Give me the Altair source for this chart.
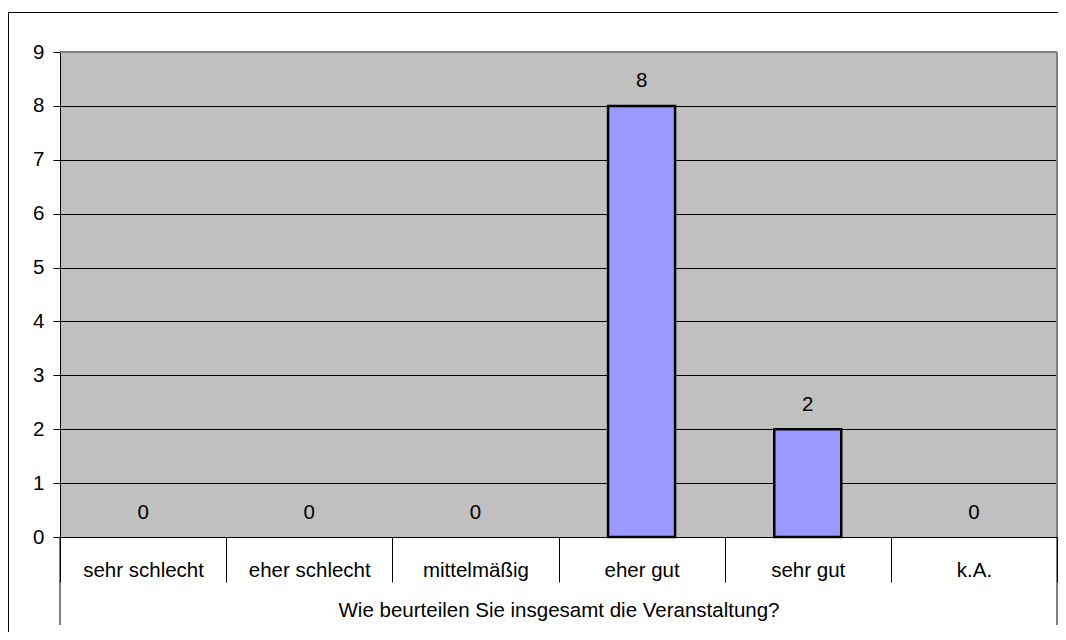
import altair as alt
import pandas as pd

categories = ["sehr schlecht", "eher schlecht", "mittelmäßig", "eher gut", "sehr gut", "k.A."]
counts = [0, 0, 0, 8, 2, 0]
y_ticks = [0, 1, 2, 3, 4, 5, 6, 7, 8, 9]
x_title = "Wie beurteilen Sie insgesamt die Veranstaltung?"

df = pd.DataFrame({"cat": categories, "n": counts})
one = pd.DataFrame({"a": [0]})

W, H = 997, 485
FONT = "Liberation Sans"
FS = 20.5

x = alt.X(
    "cat:N",
    scale=alt.Scale(domain=categories, paddingInner=0, paddingOuter=0),
    axis=alt.Axis(
        title=x_title, labelAngle=0, labelFontSize=FS, labelFont=FONT, labelColor="black",
        labelBaseline="alphabetic", labelPadding=-6, tickSize=45, tickBand="extent",
        tickColor="black", domainColor="black", titleFont=FONT, titleFontSize=FS,
        titleFontWeight="normal", titleColor="black", titleBaseline="alphabetic",
        titleY=79, labelOverlap=False,
    ),
)
y = alt.Y(
    "n:Q",
    scale=alt.Scale(domain=[0, 9], nice=False),
    axis=alt.Axis(
        title=None, values=y_ticks, tickSize=7, tickColor="black", domainColor="black",
        labelFontSize=FS, labelFont=FONT, labelColor="black", labelPadding=9,
        grid=True, gridColor="black", gridOpacity=1, gridWidth=1,
    ),
)

base = alt.Chart(df)
bars = base.transform_filter("datum.n > 0").mark_bar(
    size=67, fill="#9999FF", stroke="black", strokeWidth=2.5
).encode(x=x, y=y)
labels = base.mark_text(
    dy=-24.5, fontSize=FS, font=FONT, color="black", baseline="middle"
).encode(x=x, y=y, text="n:Q")

top_gray = alt.Chart(one).mark_rule(color="#808080", strokeWidth=2).encode(
    x=alt.value(0), x2=alt.value(W), y=alt.value(0))
right_gray = alt.Chart(one).mark_rule(color="#808080", strokeWidth=2).encode(
    x=alt.value(W), y=alt.value(0), y2=alt.value(H))
outer_left = alt.Chart(one).mark_rule(color="black", strokeWidth=1).encode(
    x=alt.value(0), y=alt.value(H), y2=alt.value(H + 88))
outer_right = alt.Chart(one).mark_rule(color="black", strokeWidth=1).encode(
    x=alt.value(W), y=alt.value(H), y2=alt.value(H + 88))
frame_left = alt.Chart(one).mark_rule(color="black", strokeWidth=1).encode(
    x=alt.value(-51.5), y=alt.value(-39.5), y2=alt.value(H + 95))
frame_top = alt.Chart(one).mark_rule(color="black", strokeWidth=1).encode(
    x=alt.value(-51.5), x2=alt.value(W + 1), y=alt.value(-39.5))

chart = alt.layer(
    bars, labels, top_gray, right_gray, outer_left, outer_right, frame_left, frame_top
).properties(
    width=W, height=H,
    padding={"left": 52, "top": 44, "right": 1, "bottom": 95},
    autosize=alt.AutoSizeParams(type="none"),
    background="white",
).configure_view(fill="#C0C0C0", stroke=None)

chart.save("out.html", embed_options={"renderer": "svg", "actions": False})
